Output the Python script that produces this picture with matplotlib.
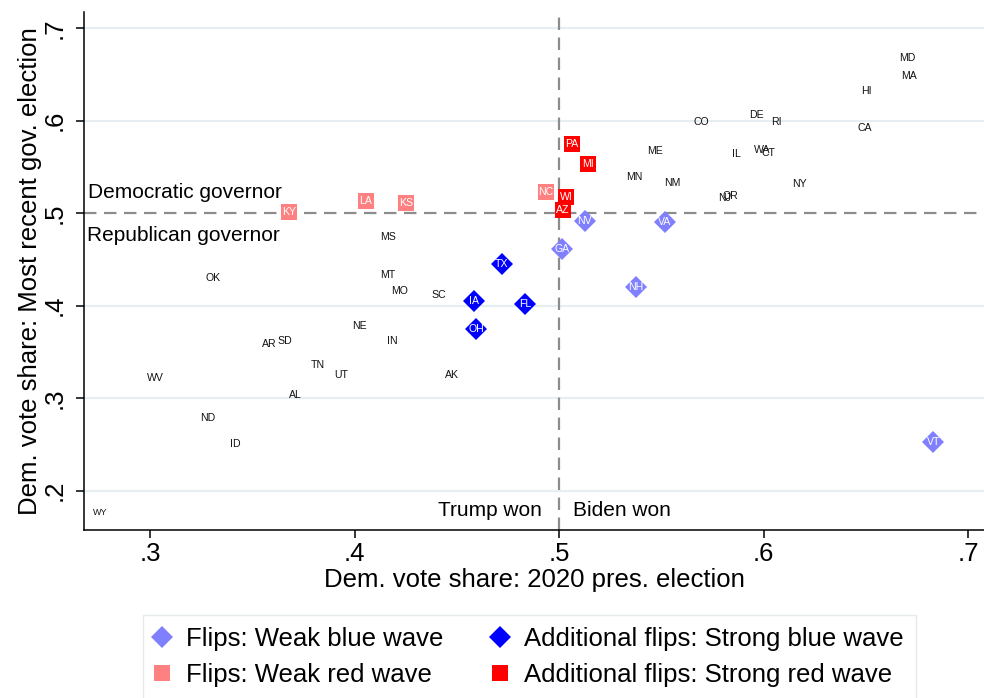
import matplotlib
matplotlib.use("Agg")
import matplotlib.pyplot as plt
from matplotlib.lines import Line2D

plt.rcParams['font.family'] = ['Liberation Sans', 'DejaVu Sans']

# ---------------- data ----------------
other_states = ['MD', 'MA', 'HI', 'CA', 'DE', 'RI', 'CO', 'ME', 'IL', 'WA', 'CT',
                'MN', 'NM', 'NY', 'NJ', 'OR', 'MS', 'OK', 'MT', 'MO', 'SC', 'NE',
                'AR', 'SD', 'IN', 'TN', 'UT', 'AK', 'WV', 'AL', 'ND', 'ID', 'WY']
other_pres = [0.6703, 0.6713, 0.6505, 0.6493, 0.5963, 0.6061, 0.5696, 0.5469, 0.5869,
              0.5994, 0.6023, 0.5367, 0.5554, 0.6175, 0.5808, 0.5836, 0.4162, 0.3310,
              0.4160, 0.4218, 0.4410, 0.4023, 0.3582, 0.3659, 0.4183, 0.3820, 0.3933,
              0.4477, 0.3024, 0.3711, 0.3282, 0.3416, 0.2756]
other_gov = [0.6673, 0.6481, 0.6319, 0.5916, 0.6057, 0.5984, 0.5984, 0.5671, 0.5639,
             0.5679, 0.5646, 0.5390, 0.5322, 0.5311, 0.5163, 0.5185, 0.4739, 0.4299,
             0.4331, 0.4155, 0.4115, 0.3780, 0.3586, 0.3615, 0.3615, 0.3359, 0.3247,
             0.3247, 0.3215, 0.3031, 0.2783, 0.2502, 0.1760]

weak_blue_states = ['GA', 'NV', 'VA', 'NH', 'VT']
weak_blue_pres = [0.5014, 0.5126, 0.5518, 0.5377, 0.6830]
weak_blue_gov = [0.4615, 0.4915, 0.4901, 0.4205, 0.2524]

strong_blue_states = ['TX', 'IA', 'FL', 'OH']
strong_blue_pres = [0.4720, 0.4584, 0.4834, 0.4596]
strong_blue_gov = [0.4447, 0.4048, 0.4020, 0.3744]

weak_red_states = ['KY', 'LA', 'KS', 'NC']
weak_red_pres = [0.3681, 0.4056, 0.4252, 0.4935]
weak_red_gov = [0.5009, 0.5127, 0.5109, 0.5225]

strong_red_states = ['PA', 'MI', 'WI', 'AZ']
strong_red_pres = [0.5062, 0.5143, 0.5036, 0.5020]
strong_red_gov = [0.5743, 0.5527, 0.5177, 0.5030]

tick_vals = [0.2, 0.3, 0.4, 0.5, 0.6, 0.7]
tick_labels = ['.2', '.3', '.4', '.5', '.6', '.7']
xtick_vals = [0.3, 0.4, 0.5, 0.6, 0.7]
xtick_labels = ['.3', '.4', '.5', '.6', '.7']

legend_labels = ['Flips: Weak blue wave', 'Flips: Weak red wave',
                 'Additional flips: Strong blue wave', 'Additional flips: Strong red wave']

# ---------------- styles ----------------
C_LBLUE = '#8080ff'
C_BLUE = '#0000ff'
C_LRED = '#ff8080'
C_RED = '#ff0000'
GRID = '#e6eef1'
DASH = '#8c8c8c'
BIG = 18.5

fig = plt.figure(figsize=(9.84, 6.98), dpi=100)
ax = fig.add_axes([84 / 984, 1 - 530 / 698, 900 / 984, 518 / 698])

ax.set_xlim(0.2677, 0.7078)
ax.set_ylim(0.1576, 0.7173)

for v in tick_vals:
    if v != 0.5:
        ax.axhline(v, color=GRID, lw=1.6, zorder=0)
ax.axhline(0.5, color=DASH, lw=1.6, dashes=(5.6, 3.4), zorder=1)
ax.axvline(0.5, color=DASH, lw=1.6, dashes=(5.6, 3.4), zorder=1)

for s in ['top', 'right']:
    ax.spines[s].set_visible(False)
for s in ['left', 'bottom']:
    ax.spines[s].set_linewidth(1.1)

ax.set_xticks(xtick_vals)
ax.set_xticklabels(xtick_labels, fontsize=BIG)
ax.set_yticks(tick_vals)
ax.set_yticklabels(tick_labels, fontsize=BIG, rotation=90, va='center')
ax.tick_params(axis='both', length=5.8, width=1.1)
ax.tick_params(axis='x', pad=2.5)
ax.tick_params(axis='y', pad=6.5)

ax.set_xlabel('Dem. vote share: 2020 pres. election', fontsize=BIG, labelpad=2)
ax.set_ylabel('Dem. vote share: Most recent gov. election', fontsize=BIG, labelpad=1)

# unmarked states: labels only
for s, x, y in zip(other_states, other_pres, other_gov):
    ax.text(x, y, s, fontsize=6.5 if s == 'WY' else 7.6, color='#111111',
            ha='center', va='center', zorder=3)

groups = [
    (weak_blue_states, weak_blue_pres, weak_blue_gov, 'D', C_LBLUE, 11.7),
    (weak_red_states, weak_red_pres, weak_red_gov, 's', C_LRED, 12),
    (strong_blue_states, strong_blue_pres, strong_blue_gov, 'D', C_BLUE, 11.7),
    (strong_red_states, strong_red_pres, strong_red_gov, 's', C_RED, 12),
]
handles = []
for (states, xs, ys, m, c, ms), lab in zip(groups, legend_labels):
    ax.plot(xs, ys, linestyle='none', marker=m, color=c, markersize=ms,
            markeredgewidth=0, zorder=4)
    for s, x, y in zip(states, xs, ys):
        ax.text(x, y, s, fontsize=7.6, color='white', ha='center', va='center', zorder=5)
    handles.append(Line2D([], [], linestyle='none', marker=m, color=c,
                          markersize=ms, markeredgewidth=0, label=lab))

ax.text(0.2697, 0.5228, 'Democratic governor', fontsize=15, ha='left', va='center')
ax.text(0.2692, 0.4753, 'Republican governor', fontsize=15, ha='left', va='center')
ax.text(0.4917, 0.1792, 'Trump won', fontsize=15, ha='right', va='center')
ax.text(0.5068, 0.1792, 'Biden won', fontsize=15, ha='left', va='center')

leg = fig.legend(handles=handles, ncol=2, loc='upper left',
                 bbox_to_anchor=(143 / 984, 1 - 615 / 698),
                 fontsize=BIG, frameon=True, fancybox=False,
                 handlelength=0.55, handletextpad=0.66, columnspacing=1.92,
                 labelspacing=0.46, borderpad=0.47, borderaxespad=0)
leg.get_frame().set_edgecolor('#dfe6e8')
leg.get_frame().set_linewidth(1.0)

fig.savefig('out.png', dpi=100)
